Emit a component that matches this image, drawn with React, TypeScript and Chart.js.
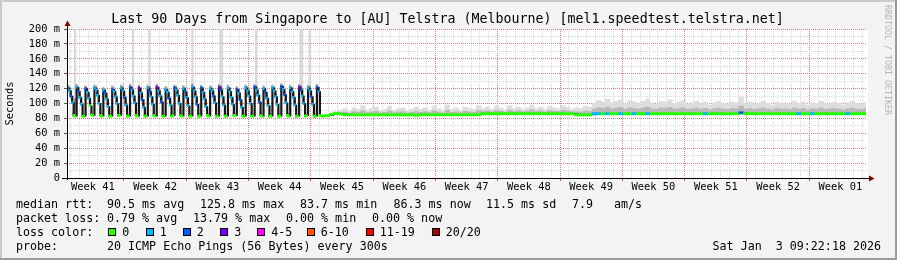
import React, { useEffect, useRef } from 'react';
import { Chart, registerables } from 'chart.js';

Chart.register(...registerables);

// ---------------- text ----------------
const TITLE = 'Last 90 Days from Singapore to [AU] Telstra (Melbourne) [mel1.speedtest.telstra.net]';
const Y_TITLE = 'Seconds';
const WATERMARK = 'RRDTOOL / TOBI OETIKER';
const weekLabels = ['Week 41', 'Week 42', 'Week 43', 'Week 44', 'Week 45', 'Week 46', 'Week 47', 'Week 48', 'Week 49', 'Week 50', 'Week 51', 'Week 52', 'Week 01'];
const yTickValues = [0, 10, 20, 30, 40, 50, 60, 70, 80, 90, 100, 110, 120, 130, 140, 150, 160, 170, 180, 190, 200];
const medianStats = ['median rtt:', '90.5 ms avg', '125.8 ms max', '83.7 ms min', '86.3 ms now', '11.5 ms sd', '7.9', 'am/s'];
const lossStats = ['packet loss:', '0.79 % avg', '13.79 % max', '0.00 % min', '0.00 % now'];
const probeStats = ['probe:', '20 ICMP Echo Pings (56 Bytes) every 300s'];
const LOSS_TITLE = 'loss color:';
const TIMESTAMP = 'Sat Jan  3 09:22:18 2026';

// ---------------- loss colours ----------------
const lossLabels = ['0', '1', '2', '3', '4-5', '6-10', '11-19', '20/20'];
const lossMax = [0, 1, 2, 3, 5, 10, 19, 20];
const lossColors = ['#26ff00', '#00b8ff', '#0059ff', '#7e00ff', '#ff00ff', '#ff5500', '#ff0000', '#a10000'];

// ---------------- time axis (days, 0 = first week boundary) ----------------
const X_MIN = -6.4;
const X_MAX = 83.38;
const P1_STEP = 1 / 6;   // phase 1 samples: 4 h
const P2_START = 28.5;   // days after chart start
const P2_STEP = 0.5;     // phase 2 samples: 12 h

// phase 1: strong daily cycle (median ms)
const p1Median = [
  121, 117, 110, 101, 84, 83,
  122, 116, 108, 99, 83, 83,
  120, 115, 107, 97, 85, 84,
  121, 118, 111, 100, 84, 83,
  118, 114, 106, 96, 83, 83,
  119, 116, 109, 100, 84, 84,
  121, 117, 108, 98, 83, 83,
  122, 118, 110, 101, 84, 83,
  121, 114, 105, 95, 83, 83,
  121, 116, 109, 99, 84, 83,
  122, 117, 110, 102, 83, 83,
  119, 115, 107, 98, 83, 84,
  121, 118, 111, 100, 84, 83,
  120, 116, 108, 97, 83, 83,
  122, 117, 109, 99, 83, 83,
  121, 115, 106, 96, 84, 83,
  120, 117, 110, 101, 83, 83,
  122, 118, 109, 98, 83, 83,
  121, 116, 108, 99, 84, 84,
  119, 114, 105, 95, 83, 83,
  121, 117, 110, 100, 83, 83,
  122, 118, 111, 102, 84, 83,
  120, 115, 107, 97, 83, 83,
  121, 117, 109, 99, 83, 83,
  123, 119, 112, 101, 84, 83,
  121, 116, 108, 98, 83, 83,
  122, 118, 110, 100, 83, 84,
  121, 117, 109, 99, 83, 83,
  122, 116, 84,
];
const p1Loss = [
  1, 1, 2, 1, 0, 0,
  1, 2, 1, 1, 0, 0,
  2, 1, 1, 0, 0, 0,
  1, 1, 1, 1, 0, 0,
  1, 2, 1, 1, 0, 0,
  2, 1, 1, 1, 0, 0,
  1, 1, 2, 1, 0, 0,
  2, 1, 1, 1, 0, 0,
  3, 1, 2, 1, 0, 0,
  1, 2, 1, 1, 0, 0,
  3, 1, 1, 2, 0, 0,
  1, 1, 2, 1, 0, 0,
  2, 1, 1, 1, 0, 0,
  1, 2, 1, 1, 0, 0,
  1, 1, 1, 2, 0, 0,
  2, 1, 1, 1, 0, 0,
  1, 1, 2, 1, 0, 0,
  3, 2, 1, 1, 0, 0,
  1, 1, 1, 1, 0, 0,
  2, 1, 2, 1, 0, 0,
  1, 1, 1, 1, 0, 0,
  2, 1, 1, 2, 0, 0,
  1, 2, 1, 1, 0, 0,
  1, 1, 1, 1, 0, 0,
  2, 1, 2, 1, 0, 0,
  1, 1, 1, 1, 0, 0,
  3, 2, 1, 1, 0, 0,
  1, 1, 2, 1, 0, 0,
  2, 1, 0,
];
const p1SmokeHi = [
  125, 123, 118, 110, 88, 210,
  126, 122, 117, 109, 87, 86,
  124, 121, 116, 108, 89, 87,
  125, 124, 119, 111, 88, 86,
  122, 120, 115, 107, 87, 86,
  124, 122, 118, 110, 88, 87,
  125, 123, 117, 109, 87, 86,
  126, 124, 210, 111, 88, 86,
  125, 121, 115, 106, 87, 86,
  125, 210, 118, 110, 88, 86,
  126, 123, 119, 112, 88, 86,
  123, 121, 117, 109, 87, 87,
  125, 124, 119, 111, 88, 86,
  124, 122, 117, 108, 87, 86,
  210, 123, 118, 110, 88, 86,
  125, 121, 116, 107, 88, 86,
  124, 123, 119, 111, 87, 86,
  126, 210, 210, 109, 88, 86,
  125, 122, 117, 110, 88, 87,
  123, 120, 115, 106, 87, 86,
  125, 123, 119, 111, 88, 86,
  126, 210, 120, 112, 88, 86,
  124, 121, 116, 108, 87, 86,
  125, 123, 118, 110, 88, 86,
  127, 125, 121, 112, 88, 86,
  125, 122, 117, 109, 87, 86,
  126, 210, 210, 111, 88, 87,
  125, 210, 118, 110, 88, 86,
  126, 122, 88,
];

// phase 2: flat (median ms)
const p2Median = [
  83.3, 83.6, 85.5, 86.8, 86,
  84.8, 84.8, 85, 84.8, 84.8, 84.9, 84.8, 84.8, 85, 84.8, 84.8, 84.8, 84.9, 84.8, 84.8, 84.8,
  84.2,
  84.9, 85, 84.9, 84.9, 84.9, 85, 84.9, 84.9, 84.9, 84.9, 85, 84.9, 84.9, 84.9,
  86.3, 86.3, 86.3, 86.3, 86.3, 86.3, 86.3, 86.3, 86.3, 86.3, 86.3, 86.3, 86.3, 86.3, 86.3, 86.3, 86.3, 86.3, 86.3, 86.3, 86.3,
  84.8, 84.8, 84.8, 84.8,
  86.3, 86.3, 86.3, 86.3, 86.3, 86.3, 86.3, 86.3, 86.3, 86.3,
  86.3, 86.3, 86.3, 86.3, 86.3, 86.3, 86.3, 86.3, 86.3, 86.3,
  86.3, 86.3, 86.3, 86.3, 86.3, 86.3, 86.3, 86.3, 86.3, 86.3,
  86.3, 86.3, 86.3, 87.5, 86.3, 86.3, 86.3, 86.3, 86.3, 86.3,
  86.3, 86.3, 86.3, 86.3, 86.3, 86.3, 86.3, 86.3, 86.3, 86.3,
  86.3, 86.3, 86.3, 86.3, 86.3, 86.3, 86.3, 86.3, 86.3, 86.3,
  86.3, 86.3,
];
const p2Loss = [
  0, 0, 0, 0, 0,
  0, 0, 0, 0, 0, 0, 0, 0, 0, 0, 0, 0, 0, 0, 0, 0,
  0,
  0, 0, 0, 0, 0, 0, 0, 0, 0, 0, 0, 0, 0, 0,
  0, 0, 0, 0, 0, 0, 0, 0, 0, 0, 0, 0, 0, 0, 0, 0, 0, 0, 0, 0, 0,
  0, 0, 0, 0,
  1, 1, 0, 1, 0, 0, 1, 0, 0, 1,
  0, 0, 1, 0, 0, 0, 0, 0, 0, 0,
  0, 0, 0, 0, 0, 1, 0, 0, 0, 0,
  0, 0, 0, 2, 0, 0, 0, 0, 0, 0,
  0, 0, 0, 0, 0, 0, 1, 0, 0, 1,
  0, 0, 0, 0, 0, 0, 0, 1, 0, 0,
  0, 0,
];
const p2SmokeHi = [
  84.5, 85, 87, 89, 91,
  93, 90, 94, 92, 97, 91, 93, 95, 90, 92, 96, 91, 93, 94, 90, 92,
  95,
  92, 94, 91, 96, 93, 90, 98, 92, 94, 91, 95, 93, 92, 97,
  93, 95, 92, 96, 94, 91, 97, 93, 95, 92, 94, 98, 93, 95, 92, 96, 94, 93, 97, 95, 92,
  94, 93, 96, 95,
  100, 104, 102, 106, 101, 103, 105, 99, 104, 102,
  100, 103, 106, 101, 99, 103, 102, 105, 100, 102,
  104, 99, 101, 103, 100, 102, 98, 101, 103, 100,
  99, 102, 101, 108, 100, 102, 99, 101, 103, 100,
  98, 102, 100, 101, 99, 103, 100, 102, 98, 101,
  100, 103, 99, 101, 102, 100, 98, 101, 103, 100,
  99, 101,
];

// ---------------- helpers ----------------
const FONT = '"DejaVu Sans Mono", monospace';
const MAJOR_GRID = '#f07a7a';
const MINOR_GRID = '#d9d9d9';
const CLEAR = 'rgba(0,0,0,0)';

function lossColor(n: number): string {
  for (let i = 0; i < lossMax.length; i++) if (n <= lossMax[i]) return lossColors[i];
  return lossColors[lossColors.length - 1];
}

type Pt = { x: number; y: [number, number] | null };

function band(xs: number[], lo: number[], hi: number[]): Pt[] {
  return xs.map((x, i) => ({ x, y: hi[i] - lo[i] > 0.3 ? [lo[i], hi[i]] : null }));
}

const p1X = p1Median.map((_, i) => X_MIN + (i + 0.5) * P1_STEP);
const p2X = p2Median.map((_, j) => X_MIN + P2_START + (j + 0.5) * P2_STEP);

const prevOf = (arr: number[]) => arr.map((v, i) => (i === 0 ? v : arr[i - 1]));
const p1Prev = prevOf(p1Median);
const p2Prev = prevOf(p2Median);

const p1DarkLo = p1Median.map((v, i) => Math.min(v, p1Prev[i]));
const p1DarkHi = p1Median.map((v, i) => Math.max(v, p1Prev[i]));
const p1MidHi = p1Median.map((v, i) => v + (Math.min(p1SmokeHi[i], 130) - v) * 0.5);
const p2DarkLo = p2Median.map((v, i) => Math.min(v, p2Prev[i]));
const p2DarkHi = p2Median.map((v, i) => Math.max(v, p2Prev[i]));
const p2MidHi = p2Median.map((v, i) => v + (p2SmokeHi[i] - v) * 0.45);

const MEDIAN_HALF = 1.5;
const medianPts = (xs: number[], m: number[]): Pt[] => xs.map((x, i) => ({ x, y: [m[i] - MEDIAN_HALF, m[i] + MEDIAN_HALF] }));

const xTickValues: number[] = [];
for (let d = Math.ceil(X_MIN); d <= Math.floor(X_MAX); d++) xTickValues.push(d);
weekLabels.forEach((_, k) => xTickValues.push(-3.5 + 7 * k));
xTickValues.sort((a, b) => a - b);

const barCommon = {
  type: 'bar' as const,
  grouped: false,
  barPercentage: 1,
  categoryPercentage: 1,
  borderWidth: 0,
  inflateAmount: 0.35,
};

// ---------------- decorations plugin ----------------
const decor = {
  id: 'decor',
  beforeDraw(chart: any) {
    const { ctx, width, height, chartArea: a } = chart;
    ctx.save();
    ctx.fillStyle = '#f3f3f3';
    ctx.fillRect(0, 0, width, height);
    ctx.fillStyle = '#cbcbcb';
    ctx.fillRect(0, 0, width, 2);
    ctx.fillRect(0, 0, 2, height);
    ctx.fillStyle = '#9b9b9b';
    ctx.fillRect(0, height - 2, width, 2);
    ctx.fillRect(width - 2, 0, 2, height);
    ctx.fillStyle = '#ffffff';
    ctx.fillRect(a.left, a.top, a.right - a.left + 2, a.bottom - a.top);
    ctx.restore();
  },
  afterDraw(chart: any) {
    const { ctx, width, chartArea: a } = chart;
    ctx.save();
    // axes
    ctx.strokeStyle = '#000';
    ctx.lineWidth = 1;
    ctx.beginPath();
    ctx.moveTo(a.left - 5, a.bottom + 0.5);
    ctx.lineTo(a.right + 3, a.bottom + 0.5);
    ctx.moveTo(a.left + 0.5, a.bottom + 2);
    ctx.lineTo(a.left + 0.5, a.top - 3);
    ctx.stroke();
    ctx.fillStyle = '#7f0000';
    ctx.beginPath();
    ctx.moveTo(a.left + 0.5 - 3, a.top - 3);
    ctx.lineTo(a.left + 0.5 + 3, a.top - 3);
    ctx.lineTo(a.left + 0.5, a.top - 8.5);
    ctx.closePath();
    ctx.fill();
    ctx.beginPath();
    ctx.moveTo(a.right + 3, a.bottom + 0.5 - 3);
    ctx.lineTo(a.right + 3, a.bottom + 0.5 + 3);
    ctx.lineTo(a.right + 8.5, a.bottom + 0.5);
    ctx.closePath();
    ctx.fill();

    // title
    ctx.fillStyle = '#000';
    ctx.font = `13.3px ${FONT}`;
    ctx.textAlign = 'center';
    ctx.textBaseline = 'middle';
    ctx.fillText(TITLE, width / 2 - 1, 19.5);

    // y title
    ctx.save();
    ctx.translate(10.5, (a.top + a.bottom) / 2);
    ctx.rotate(-Math.PI / 2);
    ctx.font = `10.4px ${FONT}`;
    ctx.fillText(Y_TITLE, 0, 0);
    ctx.restore();

    // watermark
    ctx.save();
    ctx.translate(887, 5);
    ctx.rotate(Math.PI / 2);
    ctx.font = `8.3px ${FONT}`;
    ctx.fillStyle = '#b5b5b5';
    ctx.textAlign = 'left';
    ctx.fillText(WATERMARK, 0, 0);
    ctx.restore();

    // legend
    ctx.font = `11.66px ${FONT}`;
    ctx.textAlign = 'left';
    ctx.fillStyle = '#000';
    const rowY = [204.5, 218.5, 232.5, 246.5];
    const row1X = [16, 107, 200, 300, 393.5, 486, 572, 614];
    const row2X = [16, 107, 193, 286, 372];
    const row4X = [16, 107];
    medianStats.forEach((t, i) => ctx.fillText(t, row1X[i], rowY[0]));
    lossStats.forEach((t, i) => ctx.fillText(t, row2X[i], rowY[1]));
    ctx.fillText(LOSS_TITLE, 16, rowY[2]);
    const boxX = [108, 145.5, 182.5, 220, 257, 306.5, 365.5, 431.5];
    lossLabels.forEach((t, i) => {
      const bx = Math.round(boxX[i]);
      ctx.fillStyle = '#000';
      ctx.fillRect(bx, 228, 8, 8);
      ctx.fillStyle = lossColors[i];
      ctx.fillRect(bx + 1, 229, 6, 6);
      ctx.fillStyle = '#000';
      ctx.fillText(t, boxX[i] + 14.3, rowY[2]);
    });
    probeStats.forEach((t, i) => ctx.fillText(t, row4X[i], rowY[3]));
    ctx.textAlign = 'right';
    ctx.fillText(TIMESTAMP, 881, rowY[3]);
    ctx.restore();
  },
};

export default function App() {
  const ref = useRef<HTMLCanvasElement>(null);
  useEffect(() => {
    document.body.style.margin = '0';
    const canvas = ref.current;
    if (!canvas) return;
    const chart = new Chart(canvas, {
      type: 'bar',
      data: {
        datasets: [
          { ...barCommon, xAxisID: 'x', order: 0, data: medianPts(p1X, p1Median) as any,
            backgroundColor: (c: any) => lossColor(p1Loss[c.dataIndex]) },
          { ...barCommon, xAxisID: 'x', order: 1, data: band(p1X, p1DarkLo, p1DarkHi) as any, backgroundColor: '#161616' },
          { ...barCommon, xAxisID: 'x', order: 2, data: band(p1X, p1Median, p1MidHi) as any, backgroundColor: '#8c8c8c' },
          { ...barCommon, xAxisID: 'x', order: 3, data: band(p1X, p1Median, p1SmokeHi) as any,
            backgroundColor: (c: any) => (p1SmokeHi[c.dataIndex] > 150 ? '#d8d8d8' : '#b8b8b8') },
          { ...barCommon, xAxisID: 'x2', order: 0, data: medianPts(p2X, p2Median) as any,
            backgroundColor: (c: any) => lossColor(p2Loss[c.dataIndex]) },
          { ...barCommon, xAxisID: 'x2', order: 1, data: band(p2X, p2DarkLo, p2DarkHi) as any, backgroundColor: '#262626' },
          { ...barCommon, xAxisID: 'x2', order: 2, data: band(p2X, p2Median, p2MidHi) as any, backgroundColor: '#b8b8b8' },
          { ...barCommon, xAxisID: 'x2', order: 3, data: band(p2X, p2Median, p2SmokeHi) as any, backgroundColor: '#dddddd' },
        ],
      },
      options: {
        responsive: false,
        devicePixelRatio: 1,
        animation: false,
        events: [],
        layout: { padding: { top: 29, right: 31, left: 0, bottom: 0 } },
        plugins: { legend: { display: false }, tooltip: { enabled: false }, title: { display: false } },
        scales: {
          x: {
            type: 'linear',
            min: X_MIN,
            max: X_MAX,
            offset: false,
            afterBuildTicks: (s: any) => { s.ticks = xTickValues.map((v) => ({ value: v })); },
            afterFit: (s: any) => { s.height = 82; },
            ticks: {
              autoSkip: false,
              maxRotation: 0,
              minRotation: 0,
              padding: 0,
              color: '#000',
              font: { family: FONT, size: 10.4 },
              callback: (value: any) => {
                const v = Number(value);
                if (Number.isInteger(v)) return '';
                const k = (v + 3.5) / 7;
                return Number.isInteger(k) && k >= 0 && k < weekLabels.length ? weekLabels[k] : '';
              },
            },
            grid: {
              offset: false,
              lineWidth: 1,
              tickLength: 3,
              color: (c: any) => {
                const v = c.tick ? c.tick.value : NaN;
                if (!Number.isInteger(v)) return CLEAR;
                return v % 7 === 0 ? MAJOR_GRID : MINOR_GRID;
              },
              tickColor: (c: any) => {
                const v = c.tick ? c.tick.value : NaN;
                return Number.isInteger(v) && v % 7 === 0 ? '#e05050' : CLEAR;
              },
            },
            border: { display: false, dash: [1, 1] },
          },
          x2: {
            type: 'linear',
            display: false,
            min: X_MIN,
            max: X_MAX,
            offset: false,
            grid: { offset: false },
          },
          y: {
            type: 'linear',
            min: 0,
            max: 200,
            afterBuildTicks: (s: any) => { s.ticks = yTickValues.map((v) => ({ value: v })); },
            afterFit: (s: any) => { s.width = 67; },
            ticks: {
              autoSkip: false,
              padding: 4,
              color: '#000',
              font: { family: FONT, size: 10.4 },
              callback: (value: any) => {
                const v = Number(value);
                if (v % 20 !== 0) return '';
                return v === 0 ? '0' : `${v} m`;
              },
            },
            grid: {
              lineWidth: 1,
              tickLength: 3,
              color: (c: any) => ((c.tick ? c.tick.value : 1) % 20 === 0 ? MAJOR_GRID : MINOR_GRID),
              tickColor: (c: any) => ((c.tick ? c.tick.value : 1) % 20 === 0 ? '#555' : CLEAR),
            },
            border: { display: false, dash: [1, 1] },
          },
        },
      },
      plugins: [decor],
    } as any);
    return () => chart.destroy();
  }, []);
  return <canvas ref={ref} width={897} height={260} style={{ display: 'block', width: 897, height: 260 }} />;
}
